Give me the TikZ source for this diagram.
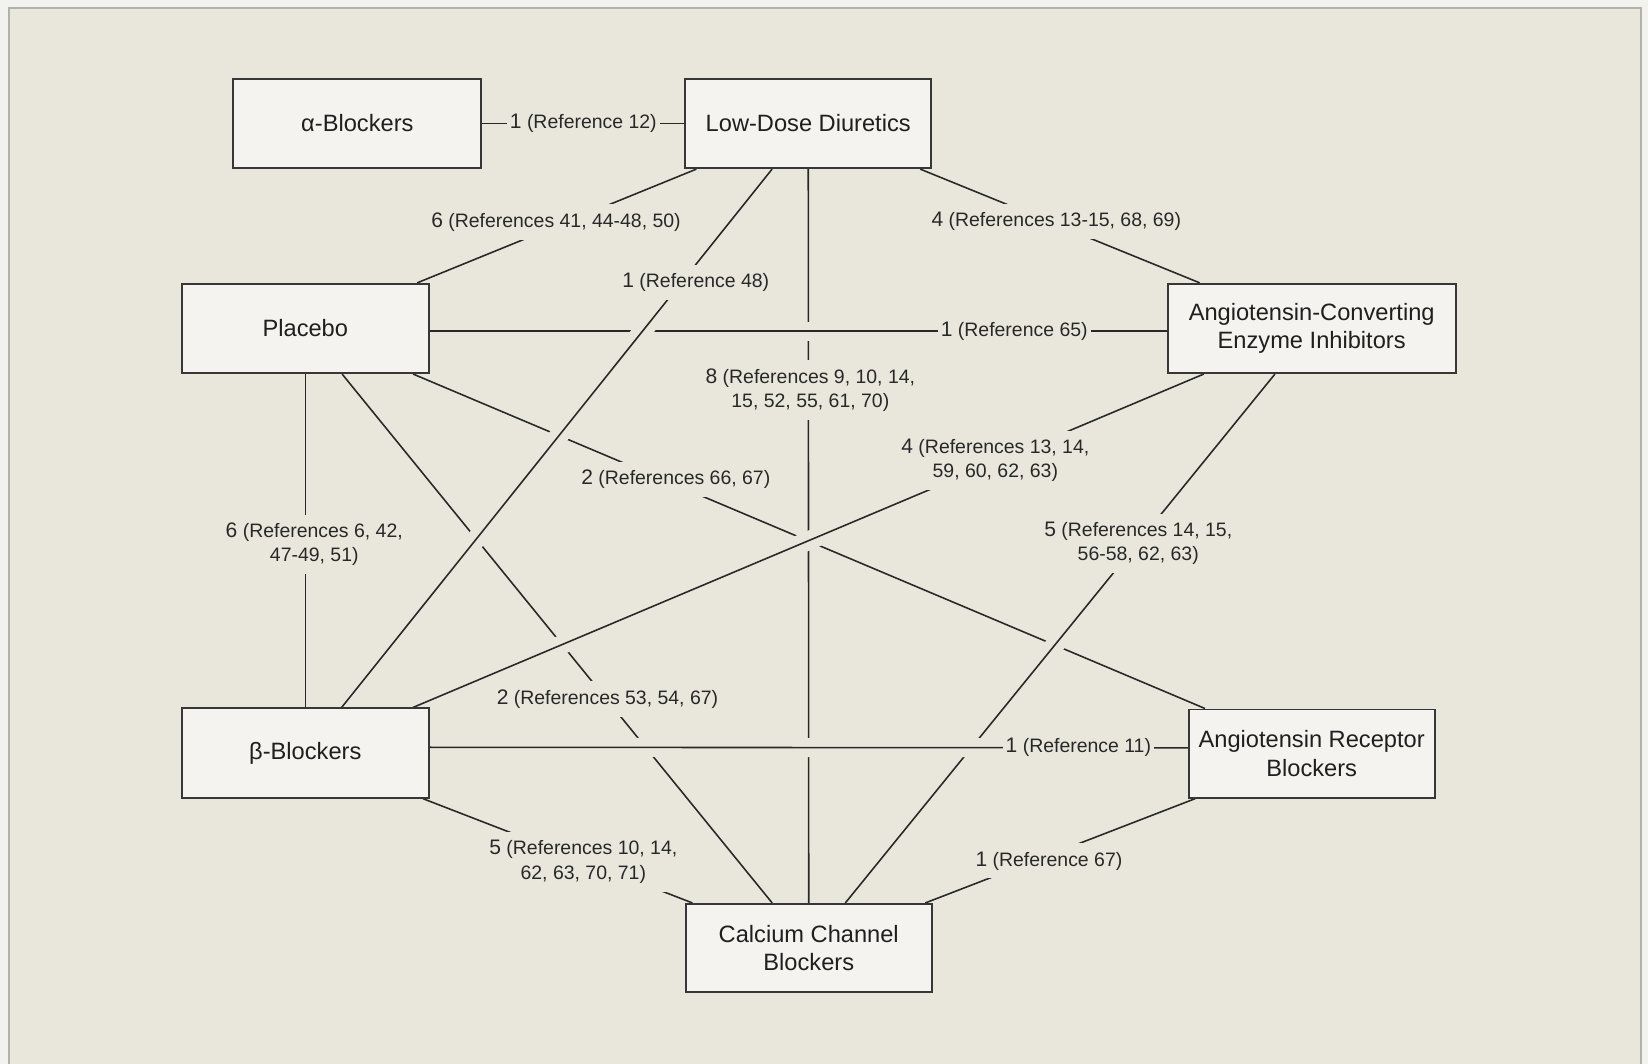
\documentclass[tikz,border=0pt]{standalone}
\usepackage{fontspec}
\setmainfont{Liberation Sans}
\definecolor{bg}{RGB}{233,231,220}
\definecolor{pagebg}{RGB}{242,242,239}
\definecolor{framecol}{RGB}{178,178,172}
\definecolor{boxfill}{RGB}{245,243,239}
\definecolor{boxline}{RGB}{55,55,55}
\definecolor{ink}{RGB}{40,40,40}
\pgfdeclarelayer{back}
\pgfdeclarelayer{edges}
\pgfsetlayers{back,edges,main}
\newcommand{\nm}[1]{{\fontsize{20}{23}\selectfont #1}}
\begin{document}
\begin{tikzpicture}[x=1pt,y=-1pt,
  box/.style={draw=boxline, fill=boxfill, line width=1.8pt, inner sep=0pt, align=center,
    font=\fontsize{22.5}{27}\selectfont, text=black!88},
  conn/.style={draw=ink, line width=1.5pt},
  over/.style={preaction={draw=bg, line width=18pt, shorten <=12pt, shorten >=12pt}},
  lab/.style={fill=bg, text=ink, inner xsep=3pt, inner ysep=8pt, align=center,
    font=\fontsize{18.5}{23}\selectfont},
]
\useasboundingbox (0,0) rectangle (1568,1012);
\begin{pgfonlayer}{back}
\fill[pagebg] (0,0) rectangle (1568,1012);
\draw[framecol, fill=bg, line width=2pt] (8.5,7.5) rectangle (1561,1030);
\end{pgfonlayer}

% boxes
\node[box, minimum width=236pt, minimum height=85pt] (alpha) at (340,117.5) {α-Blockers};
\node[box, minimum width=234pt, minimum height=85pt] (ldd) at (769,117.5) {Low-Dose Diuretics};
\node[box, minimum width=235pt, minimum height=85pt] (plac) at (290.5,312.5) {Placebo};
\node[box, minimum width=274pt, minimum height=85pt] (ace) at (1248,312.5) {Angiotensin-Converting\\Enzyme Inhibitors};
\node[box, minimum width=235pt, minimum height=85pt] (beta) at (290.5,716.5) {β-Blockers};
\node[box, minimum width=234pt, minimum height=84pt] (arb) at (1248,717) {Angiotensin Receptor\\Blockers};
\node[box, minimum width=234pt, minimum height=84pt] (ccb) at (769.5,902) {Calcium Channel\\Blockers};

\begin{pgfonlayer}{edges}
% plain connectors
\draw[conn] (alpha) -- (ldd);
\draw[conn] (ldd) -- (plac);
\draw[conn] (ldd) -- (ace);
\draw[conn] (plac) -- (beta);
\draw[conn] (beta) -- (ccb);
\draw[conn] (arb) -- (ccb);
% connectors that pass under others
\draw[conn] (plac) -- (arb);
\draw[conn] (plac) -- (ccb);
\draw[conn] (ldd) -- (ccb);
% connectors that pass over others (later ones on top)
\draw[conn, over] ([yshift=-2.5pt]plac.east) -- ([yshift=-2.5pt]ace.west);
\draw[conn, over] (ace) -- (ccb);
\draw[conn, over] (ldd) -- (beta);
\draw[conn, over] (beta) -- (ace);
\draw[conn, over] ([yshift=5.5pt]beta.east) -- ([yshift=5.5pt]arb.west);

% labels
\node[lab] (lal) at (555,117) {\nm{1} (Reference 12)};
\node[lab] (llp) at (529,211) {\nm{6} (References 41, 44-48, 50)};
\node[lab] (llb) at (662,269) {\nm{1} (Reference 48)};
\node[lab] (llc) at (771,371) {\nm{8} (References 9, 10, 14,\\15, 52, 55, 61, 70)};
\node[lab] (lla) at (1005,211) {\nm{4} (References 13-15, 68, 69)};
\node[lab] (lpa) at (965,315) {\nm{1} (Reference 65)};
\node[lab] (lpr) at (643,456) {\nm{2} (References 66, 67)};
\node[lab] (lpb) at (299,518) {\nm{6} (References 6, 42,\\47-49, 51)};
\node[lab] (lpc) at (578,665) {\nm{2} (References 53, 54, 67)};
\node[lab] (lba) at (947,438) {\nm{4} (References 13, 14,\\59, 60, 62, 63)};
\node[lab] (lac) at (1083,517) {\nm{5} (References 14, 15,\\56-58, 62, 63)};
\node[lab] (lbr) at (1026,711) {\nm{1} (Reference 11)};
\node[lab] (lbc) at (555,820) {\nm{5} (References 10, 14,\\62, 63, 70, 71)};
\node[lab] (lrc) at (998,819) {\nm{1} (Reference 67)};
\end{pgfonlayer}
\end{tikzpicture}
\end{document}
